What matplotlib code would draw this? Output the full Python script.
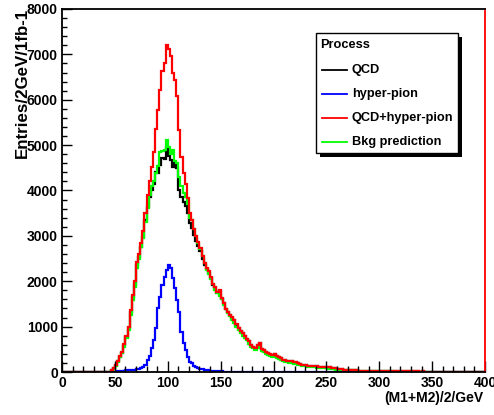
import numpy as np
import matplotlib
matplotlib.use("Agg")
import matplotlib.pyplot as plt
from matplotlib.patches import Rectangle
from matplotlib.lines import Line2D

#
# Histogram contents, 2 GeV bins from 0 to 400 GeV
#
edges = np.arange(0, 402, 2)

qcd = [0]*22 + [
    8, 36, 84, 150, 236, 332, 428, 592, 765, 960,
    1325, 1650, 1945, 2365, 2525, 2760, 2980, 3340, 3630, 3850,
    4000, 4150, 4400, 4380, 4560, 4720, 4700, 4950, 4760, 4680,
    4520, 4600, 4500, 4000, 3850, 3750, 3650, 3500, 3280, 3170,
    3030, 2890, 2770, 2660, 2490, 2350, 2260, 2185, 2070, 1925,
    1860, 1740, 1795, 1610, 1510, 1390, 1320, 1250, 1200, 1145,
    1045, 965, 895, 855, 795, 735, 675, 595, 555, 535,
    595, 635, 515, 475, 445, 415, 385, 365, 395, 345,
    320, 300, 265, 270, 250, 240, 235, 230, 210, 190,
    175, 165, 155, 150, 140, 135, 130, 125, 130, 120,
    110, 115, 110, 120, 100, 90, 85, 80, 70, 66,
    60, 55, 50, 45, 44, 40, 38, 35, 32, 30,
    28, 30, 26, 24, 22, 25, 20, 20, 22, 20,
    21, 18, 19, 17, 18, 16, 17, 15, 16, 15,
    14, 15, 13, 14, 12, 13, 12, 11, 12, 11,
    10, 11, 10, 9, 10, 9, 10, 8, 9, 8,
    8, 9, 7, 8, 7, 8, 6, 7, 7, 6,
    7, 6, 5, 6, 5, 6, 5, 5]

hyper_pion = [0]*22 + [
    2, 4, 6, 10, 14, 18, 22, 28, 35, 40,
    45, 50, 55, 65, 75, 88, 117, 155, 265, 350,
    520, 705, 960, 1400, 1660, 1920, 2100, 2250, 2360, 2285,
    2065, 1845, 1590, 1330, 890, 630, 485, 340, 230, 190,
    125, 110, 85, 75, 65, 50, 42, 35, 30, 25,
    22, 18, 15, 12, 10, 9, 8, 7, 6, 5,
    5, 4, 4, 3, 3, 3, 2, 2, 2, 1,
    1, 1, 1, 1, 1, 1, 1, 1, 1] + [0]*99

bkg_pred = [0]*22 + [
    5, 25, 70, 130, 220, 320, 410, 560, 740, 930,
    1250, 1580, 1880, 2300, 2500, 2750, 2950, 3300, 3620, 3900,
    4100, 4200, 4380, 4550, 4850, 4870, 4900, 5110, 4950, 4800,
    4900, 4650, 4600, 4300, 4100, 3950, 3850, 3700, 3400, 3350,
    3150, 3000, 2850, 2700, 2550, 2400, 2250, 2150, 2050, 1950,
    1800, 1750, 1680, 1600, 1480, 1380, 1300, 1230, 1150, 1080,
    1000, 930, 860, 800, 760, 700, 620, 560, 520, 490,
    520, 560, 470, 430, 400, 370, 345, 320, 330, 300,
    280, 260, 240, 230, 215, 200, 195, 185, 170, 160,
    150, 140, 130, 125, 118, 110, 105, 100, 95, 90,
    85, 82, 80, 78, 70, 65, 60, 55, 52, 50,
    48, 45, 42, 40, 38, 36, 34, 32, 30, 28,
    26, 27, 24, 22, 21, 22, 18, 18, 16, 15,
    16, 14, 13, 12, 13, 11, 10, 10, 9, 10,
    8, 8, 7, 7, 8, 6, 6, 5, 5, 6,
    5, 5, 5, 4, 5, 4, 4, 3, 3, 4,
    3, 3, 2, 2, 3, 2, 2, 2, 1, 2,
    1, 1, 1, 1, 1, 1, 1, 1]

qcd = np.array(qcd, dtype=float)
hyper_pion = np.array(hyper_pion, dtype=float)
bkg_pred = np.array(bkg_pred, dtype=float)
total = qcd + hyper_pion  # QCD+hyper-pion

legend_labels = ["QCD", "hyper-pion", "QCD+hyper-pion", "Bkg prediction"]
legend_colors = ["black", "#0000ff", "#ff0000", "#00ff00"]

#
# Figure
#
W, H = 494, 415
fig = plt.figure(figsize=(W/100, H/100), dpi=100)
fig.patch.set_facecolor("white")
font = "Liberation Sans"

ax = fig.add_axes([62/W, 1-372/H, (485-62)/W, (372-9)/H])

lw = 1.6
ax.stairs(qcd, edges, baseline=0, color="black", lw=lw)
ax.stairs(hyper_pion, edges, baseline=0, color="#0000ff", lw=lw)
ax.stairs(bkg_pred, edges, baseline=0, color="#00ff00", lw=lw)
ax.stairs(total, edges, baseline=0, color="#ff0000", lw=lw)

ax.set_xlim(0, 400)
ax.set_ylim(0, 8000)
ax.set_xticks(np.arange(0, 401, 50))
ax.set_xticks(np.arange(0, 401, 10), minor=True)
ax.set_yticks(np.arange(0, 8001, 1000))
ax.set_yticks(np.arange(0, 8001, 200), minor=True)

ax.tick_params(axis="both", which="both", direction="in", top=False, right=False,
               width=1.0, color="black")
ax.tick_params(axis="x", which="major", length=8, pad=3)
ax.tick_params(axis="x", which="minor", length=4)
ax.tick_params(axis="y", which="major", length=7, pad=3)
ax.tick_params(axis="y", which="minor", length=3.5)

for lab in ax.get_xticklabels() + ax.get_yticklabels():
    lab.set_fontfamily(font)
    lab.set_fontweight("bold")
    lab.set_fontsize(10)

for s in ["left", "bottom", "top"]:
    ax.spines[s].set_linewidth(1.3)
    ax.spines[s].set_color("black")
ax.spines["right"].set_color("#ff0000")
ax.spines["right"].set_linewidth(1.3)

fig.text(483/W, 1-398/H, "(M1+M2)/2/GeV", ha="right", va="center",
         fontsize=10, fontweight="bold", family=font)
fig.text(22/W, 1-8/H, "Entries/2GeV/1fb-1", ha="center", va="top", rotation=90,
         fontsize=12.2, fontweight="bold", family=font)

#
# Legend box with shadow (ROOT TLegend style)
#
bx0, by0, bx1, by1 = 316, 33, 458, 153
sh = 4
fig.patches.append(Rectangle(((bx0+sh)/W, 1-(by1+sh)/H), (bx1-bx0)/W, (by1-by0)/H,
                             transform=fig.transFigure, facecolor="black",
                             edgecolor="black", lw=0, zorder=5))
fig.patches.append(Rectangle((bx0/W, 1-by1/H), (bx1-bx0)/W, (by1-by0)/H,
                             transform=fig.transFigure, facecolor="white",
                             edgecolor="black", lw=1.0, zorder=6))
fig.text(320/W, 1-45/H, "Process", ha="left", va="center", fontsize=9.2,
         fontweight="bold", family=font, zorder=7)
rows = [70, 94, 118, 142]
for yy, lab, col in zip(rows, legend_labels, legend_colors):
    fig.lines.append(Line2D([322/W, 347/W], [1-yy/H, 1-yy/H], transform=fig.transFigure,
                            color=col, lw=1.3, zorder=7))
    fig.text(352/W, 1-yy/H, lab, ha="left", va="center", fontsize=9.2,
             fontweight="bold", family=font, zorder=7)

fig.savefig("out.png", dpi=100)
